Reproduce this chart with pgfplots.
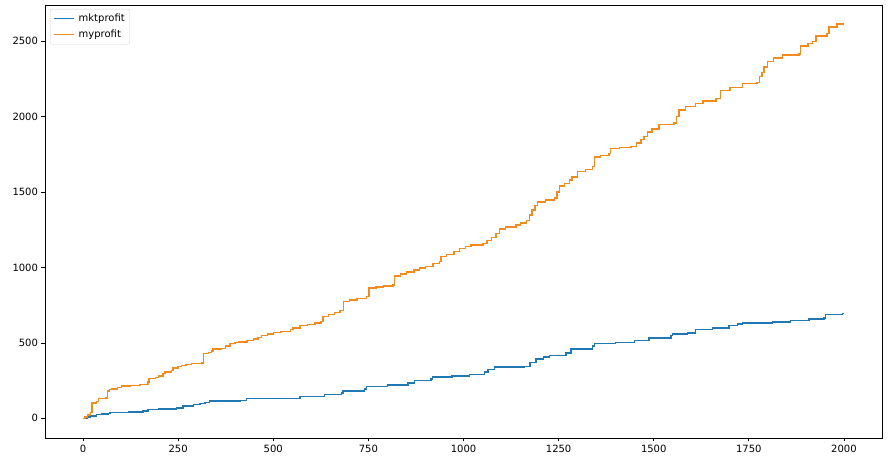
\documentclass[border=0pt]{standalone}
\usepackage{fontspec}
\setmainfont{DejaVu Sans}
\usepackage{pgfplots}
\pgfplotsset{compat=1.18}
\definecolor{mplblue}{HTML}{1F77B4}
\definecolor{mplorange}{HTML}{F28A1E}
\begin{document}
\begin{tikzpicture}
\begin{axis}[
  name=ax,
  scale only axis,
  width=837pt, height=433pt,
  xmin=-100, xmax=2100,
  ymin=-130.5, ymax=2740.5,
  xtick={0,250,...,2000},
  ytick={0,500,...,2500},
  tick align=outside,
  tick pos=left,
  major tick length=3.5pt,
  /pgf/number format/assume math mode=true,
  /pgf/number format/1000 sep={},
  tick label style={font=\fontsize{10}{12}\selectfont, black},
  axis line style={black, line width=0.8pt},
  every tick/.style={black, line width=0.8pt},
  legend style={at={(0.006,0.991)}, anchor=north west, draw=gray!35, rounded corners=2pt,
    font=\fontsize{10}{12}\selectfont, inner xsep=3pt, inner ysep=3pt, row sep=3pt},
  legend cell align=left,
  legend image code/.code={\draw[#1] (0pt,0pt) -- (20pt,0pt); \path (22pt,0pt);},
]
\addplot[const plot, mplblue, line width=1.5pt] coordinates {
(0,0) (10,8) (20,15) (36,26) (50,30) (66,33) (71,37) (120,42) (158,48) (171,59)
(200,62) (246,70) (263,81) (290,90) (307,99) (320,104) (333,114) (412,119) (430,130)
(526,132) (570,143) (626,145) (635,158) (679,169) (683,180) (740,196) (745,212)
(800,222) (854,235) (871,251) (915,262) (919,275) (970,280) (1016,291) (1055,306)
(1064,324) (1081,339) (1160,345) (1175,370) (1191,394) (1210,405) (1226,416)
(1270,434) (1283,460) (1339,478) (1344,495) (1400,504) (1450,515) (1488,533)
(1545,548) (1549,559) (1589,565) (1610,588) (1654,599) (1698,614) (1720,625)
(1733,632) (1812,639) (1860,648) (1908,658) (1947,665) (1952,687) (1996,694) (2000,694)
};
\addlegendentry{mktprofit}
\addplot[const plot, mplorange, line width=1.5pt] coordinates {
(0,0) (5,10) (12,22) (20,37) (23,103) (36,110) (40,130) (60,135) (64,180) (70,190)
(75,196) (90,205) (101,213) (125,218) (150,225) (171,240) (174,264) (190,272) (198,280)
(210,298) (215,306) (233,316) (237,335) (250,342) (259,350) (270,356) (285,363)
(311,368) (316,429) (330,438) (338,445) (342,460) (364,462) (375,480) (386,495)
(400,502) (409,507) (431,516) (448,527) (460,535) (469,548) (485,560) (500,570)
(520,574) (535,577) (545,590) (552,599) (570,614) (590,622) (610,632) (626,643)
(631,676) (645,688) (661,702) (675,715) (685,775) (700,785) (720,795) (745,808)
(752,863) (770,870) (790,878) (815,885) (819,945) (835,958) (850,970) (870,985)
(884,995) (900,1005) (920,1025) (937,1039) (941,1072) (955,1085) (975,1105)
(990,1127) (1005,1140) (1020,1149) (1051,1160) (1062,1180) (1073,1200) (1085,1225)
(1094,1255) (1110,1268) (1138,1281) (1150,1295) (1165,1312) (1173,1347) (1180,1380)
(1188,1410) (1195,1435) (1215,1448) (1239,1462) (1246,1500) (1252,1540) (1265,1556)
(1278,1580) (1285,1600) (1300,1635) (1320,1650) (1339,1670) (1344,1733) (1360,1742)
(1383,1755) (1387,1788) (1410,1795) (1440,1803) (1455,1825) (1466,1847) (1475,1870)
(1484,1898) (1495,1918) (1514,1948) (1553,1957) (1560,2000) (1567,2045) (1584,2067)
(1610,2089) (1630,2105) (1663,2122) (1676,2173) (1700,2195) (1733,2221) (1772,2228)
(1778,2265) (1784,2294) (1790,2330) (1799,2367) (1815,2390) (1838,2409) (1882,2415)
(1886,2470) (1905,2485) (1917,2499) (1926,2536) (1956,2552) (1961,2596) (1982,2613)
(2000,2613)
};
\addlegendentry{myprofit}
\end{axis}
\path ([shift={(-45pt,-21pt)}]ax.south west) rectangle ([shift={(11pt,5pt)}]ax.north east);
\end{tikzpicture}
\end{document}
